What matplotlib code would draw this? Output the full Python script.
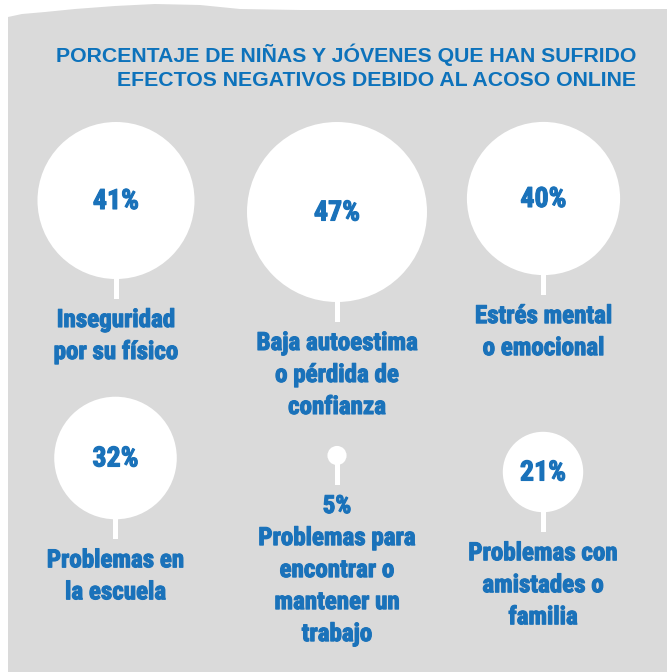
import matplotlib
matplotlib.use('Agg')
import matplotlib.pyplot as plt
import matplotlib.patheffects as pe
from matplotlib import font_manager
from matplotlib.font_manager import FontProperties
from matplotlib.patches import Circle, Polygon, Rectangle

# ---------------- data ----------------
values = [41, 47, 40, 32, 5, 21]
labels = [
    ['Inseguridad', 'por su físico'],
    ['Baja autoestima', 'o pérdida de', 'confianza'],
    ['Estrés mental', 'o emocional'],
    ['Problemas en', 'la escuela'],
    ['Problemas para', 'encontrar o', 'mantener un', 'trabajo'],
    ['Problemas con', 'amistades o', 'familia'],
]
title_lines = ['PORCENTAJE DE NIÑAS Y JÓVENES QUE HAN SUFRIDO',
               'EFECTOS NEGATIVOS DEBIDO AL ACOSO ONLINE']

# ---------------- layout (pixels) ----------------
W, H = 667, 672
centers = [(116, 200.5), (337, 212), (543.5, 198.5),
           (115.5, 458), (337, 455.5), (543, 472)]
px_per_pct = 90 / 47.0     # radius is linear in the value
stem_len = 20
stem_w = 5
line_gap = 32

grey = '#dadada'
blue = '#1a72ba'
title_blue = '#0d72bb'


def pick_condensed_bold():
    # look for a narrow / condensed bold face among installed fonts
    wanted = ['liberation sans narrow', 'roboto condensed', 'open sans condensed',
              'dejavu sans', 'noto sans', 'open sans', 'roboto', 'inter']
    best = None
    for f in font_manager.fontManager.ttflist:
        name = f.name.lower()
        stretch = str(f.stretch).lower()
        narrow = ('condensed' in stretch or 'narrow' in name
                  or 'condensed' in name or 'narrow' in f.fname.lower()
                  or 'condensed' in f.fname.lower())
        try:
            w = int(f.weight)
        except ValueError:
            w = 700 if 'bold' in str(f.weight) else 400
        if not narrow or w < 600 or 'italic' in f.fname.lower():
            continue
        rank = next((i for i, n in enumerate(wanted) if n in name), len(wanted))
        if 'extra' in f.fname.lower() or 'ultra' in f.fname.lower():
            rank += 0.5
        if best is None or rank < best[0]:
            best = (rank, f.fname)
    if best:
        return FontProperties(fname=best[1])
    return FontProperties(family='Liberation Sans', weight='bold')


fig = plt.figure(figsize=(W / 100, H / 100), dpi=100)
fig.patch.set_facecolor('white')
ax = fig.add_axes([0, 0, 1, 1])
ax.set_xlim(0, W)
ax.set_ylim(H, 0)
ax.set_aspect('equal')
ax.axis('off')
renderer = fig.canvas.get_renderer()

label_fp = pick_condensed_bold()


def fit_size(text, target_px, fp):
    # font size (pt) that makes 'text' about target_px wide
    t = ax.text(0, 0, text, fontproperties=fp, fontsize=20)
    w = t.get_window_extent(renderer).width
    t.remove()
    return 20 * target_px / w


label_size = min(fit_size('Problemas para', 160, label_fp), 18)
pct_size = min(fit_size('47%', 46, label_fp), 22)
heavy = [pe.withStroke(linewidth=0.8, foreground=blue)]

# torn-paper grey panel
edge = [(8, H), (8, 17), (22, 14), (45, 12), (75, 9), (115, 6), (155, 4),
        (200, 5), (240, 9), (300, 10), (450, 10), (W, 9), (W, H)]
ax.add_patch(Polygon(edge, closed=True, facecolor=grey, edgecolor='none'))

# title
for i, t in enumerate(title_lines):
    ax.text(636, 55 + i * 25, t, ha='right', va='center', color=title_blue,
            fontsize=15.3, fontweight='bold', family='Liberation Sans')

# bubbles
for val, lab, (cx, cy) in zip(values, labels, centers):
    r = val * px_per_pct
    ax.add_patch(Circle((cx, cy), r, facecolor='white', edgecolor='none'))
    bottom = cy + r
    ax.add_patch(Rectangle((cx - stem_w / 2, bottom - 1), stem_w, stem_len + 1,
                           facecolor='white', edgecolor='none'))
    lines = list(lab)
    pct = '%d%%' % val
    if r < 25:
        lines = [pct] + lines
    else:
        ax.text(cx, cy + 1, pct, ha='center', va='center', color=blue,
                fontproperties=label_fp, fontsize=pct_size, path_effects=heavy)
    y0 = bottom + stem_len + 21
    for j, ln in enumerate(lines):
        ax.text(cx, y0 + j * line_gap, ln, ha='center', va='center',
                color=blue, fontproperties=label_fp, fontsize=label_size,
                path_effects=heavy)

fig.savefig('out.png', dpi=100, facecolor='white')
